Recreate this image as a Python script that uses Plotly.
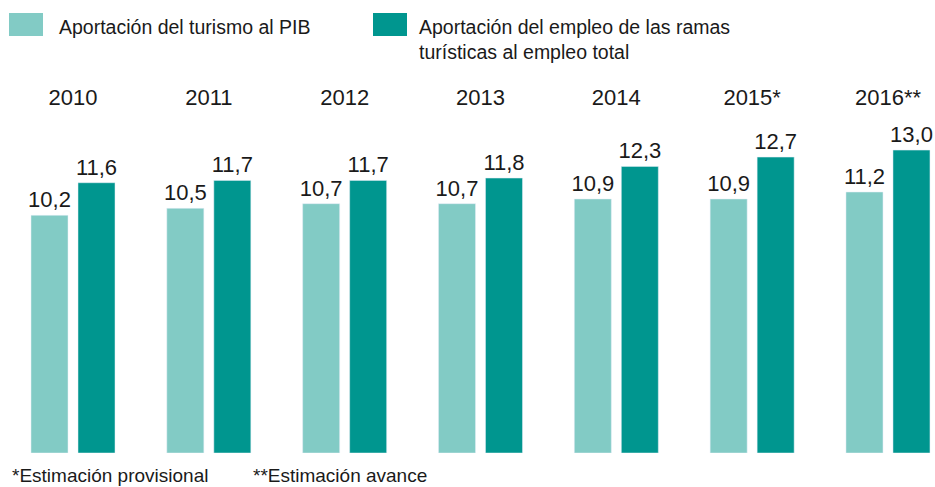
import plotly.graph_objects as go

years = ["2010", "2011", "2012", "2013", "2014", "2015*", "2016**"]
pib = [10.2, 10.5, 10.7, 10.7, 10.9, 10.9, 11.2]
empleo = [11.6, 11.7, 11.7, 11.8, 12.3, 12.7, 13.0]
series_names = ["Aportación del turismo al PIB",
                "Aportación del empleo de las ramas<br>turísticas al empleo total"]
footnotes = ["*Estimación provisional", "**Estimación avance"]

LIGHT = "#82CBC5"
DARK = "#00968F"
TXT = "#1a1a1a"
FONT = "Arial, Liberation Sans, sans-serif"

x = list(range(len(years)))
W, H = 935, 487
T, B = 112, 34            # plot area from pixel 112 to 453
unit = 135.83             # px per category
x0 = 73                   # px of first group centre
px_per_val = 23.3

fig = go.Figure()
fig.add_trace(go.Bar(x=x, y=pib, name=series_names[0], marker_color=LIGHT,
                     width=37 / unit, offset=-42 / unit,
                     text=[f"{v:.1f}".replace(".", ",") for v in pib],
                     textposition="outside", cliponaxis=False, constraintext="none",
                     textfont=dict(size=22, color=TXT, family=FONT),
                     showlegend=False))
fig.add_trace(go.Bar(x=x, y=empleo, name=series_names[1], marker_color=DARK,
                     width=37 / unit, offset=5 / unit,
                     text=[f"{v:.1f}".replace(".", ",") for v in empleo],
                     textposition="outside", cliponaxis=False, constraintext="none",
                     textfont=dict(size=22, color=TXT, family=FONT),
                     showlegend=False))

plot_h = H - T - B
fig.update_layout(
    width=W, height=H,
    margin=dict(l=0, r=0, t=T, b=B, pad=0),
    paper_bgcolor="white", plot_bgcolor="white",
    barmode="overlay",
    font=dict(family=FONT, color=TXT),
    xaxis=dict(range=[-x0 / unit, (W - x0) / unit], side="top",
               tickmode="array", tickvals=x, ticktext=years,
               tickfont=dict(size=22, color=TXT, family=FONT),
               showgrid=False, zeroline=False, showline=False, ticks="",
               ticklabelstandoff=2),
    yaxis=dict(range=[0, plot_h / px_per_val], visible=False,
               showgrid=False, zeroline=False),
)

def px2paper_x(px):
    return px / W

def px2paper_y(py):
    return (H - B - py) / plot_h

# legend swatches
for (xa, xb), col in [((9, 43), LIGHT), ((373, 407), DARK)]:
    fig.add_shape(type="rect", xref="paper", yref="paper",
                  x0=px2paper_x(xa), x1=px2paper_x(xb),
                  y0=px2paper_y(36), y1=px2paper_y(13),
                  fillcolor=col, line=dict(width=0))

fig.add_annotation(xref="paper", yref="paper", x=px2paper_x(57), y=px2paper_y(27),
                   text=series_names[0], showarrow=False, xanchor="left", yanchor="middle",
                   font=dict(size=19.5, color=TXT, family=FONT), align="left")
fig.add_annotation(xref="paper", yref="paper", x=px2paper_x(417), y=px2paper_y(14),
                   text=series_names[1], showarrow=False, xanchor="left", yanchor="top",
                   font=dict(size=19.5, color=TXT, family=FONT), align="left")

for txt, px in zip(footnotes, [10, 251]):
    fig.add_annotation(xref="paper", yref="paper", x=px2paper_x(px), y=px2paper_y(475),
                       text=txt, showarrow=False, xanchor="left", yanchor="middle",
                       font=dict(size=19, color=TXT, family=FONT), align="left")

fig.write_html("out.html", config={"displayModeBar": False},
               post_script="document.body.style.margin='0';document.body.style.overflow='hidden';")
